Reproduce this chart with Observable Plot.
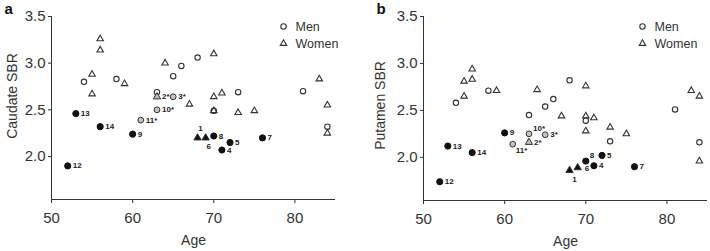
<!DOCTYPE html>
<html><head><meta charset="utf-8">
<script src="https://cdn.jsdelivr.net/npm/d3@7"></script>
<script src="https://cdn.jsdelivr.net/npm/@observablehq/plot@0.6"></script>
<style>
html,body{margin:0;padding:0;background:#fff;}
#wrap{position:relative;width:710px;height:251px;overflow:hidden;}
#wrap > svg, #wrap > figure{position:absolute;top:0;margin:0;}
</style></head><body><div id="wrap"></div>
<script>
// ---- data ----
const ageTicks = [50, 60, 70, 80];
const sbrTicks = [2.0, 2.5, 3.0, 3.5];
const ageDomain = [50, 85];
const sbrDomain = [1.54, 3.5];

// Healthy controls (open symbols)
const menAge      = [54, 58, 63, 65, 66, 68, 70, 73, 81, 84];
const menCaudate  = [2.80, 2.83, 2.69, 2.86, 2.97, 3.06, 2.49, 2.69, 2.70, 2.32];
const menPutamen  = [2.58, 2.71, 2.45, 2.54, 2.62, 2.82, 2.39, 2.17, 2.51, 2.16];

const womenAge     = [55, 55, 56, 56, 59, 64, 67, 70, 70, 70, 71, 73, 75, 83, 84, 84];
const womenCaudate = [2.88, 2.67, 3.26, 3.14, 2.78, 3.00, 2.56, 3.10, 2.64, 2.49, 2.68, 2.47, 2.49, 2.83, 2.55, 2.25];
const womenPutamen = [2.81, 2.65, 2.94, 2.83, 2.71, 2.72, 2.44, 2.76, 2.44, 2.28, 2.42, 2.32, 2.25, 2.71, 2.65, 1.96];

// Patients (filled symbols; "*" = grey)
const patientId      = ["1", "2*", "3*", "4", "5", "6", "7", "8", "9", "10*", "11*", "12", "13", "14"];
const patientSex     = ["Women", "Women", "Men", "Men", "Men", "Women", "Men", "Men", "Men", "Men", "Men", "Men", "Men", "Men"];
const patientAge     = [68, 63, 65, 71, 72, 69, 76, 70, 60, 63, 61, 52, 53, 56];
const patientCaudate = [2.20, 2.64, 2.64, 2.07, 2.15, 2.20, 2.20, 2.22, 2.24, 2.50, 2.39, 1.90, 2.46, 2.32];
const patientPutamen = [1.86, 2.16, 2.24, 1.91, 2.02, 1.89, 1.90, 1.96, 2.26, 2.25, 2.14, 1.74, 2.12, 2.05];

const legendLabels = ["Men", "Women"];

// ---- tables ----
function controlRows(key) {
  const men = menAge.map((a, i) => ({age: a, sbr: key === "caudate" ? menCaudate[i] : menPutamen[i], sex: "Men"}));
  const women = womenAge.map((a, i) => ({age: a, sbr: key === "caudate" ? womenCaudate[i] : womenPutamen[i], sex: "Women"}));
  return men.concat(women);
}
function patientRows(key) {
  return patientId.map((id, i) => ({
    id, sex: patientSex[i], age: patientAge[i],
    sbr: key === "caudate" ? patientCaudate[i] : patientPutamen[i],
    grey: id.includes("*")
  }));
}

const FONT = '"Liberation Sans", Arial, Helvetica, sans-serif';
const INK = "#333";

function panel(o) {
  const controls = controlRows(o.key);
  const pts = patientRows(o.key);
  const ctrlC = controls.filter(d => d.sex === "Men");
  const ctrlT = controls.filter(d => d.sex === "Women");
  const patC = pts.filter(d => d.sex === "Men");
  const patT = pts.filter(d => d.sex === "Women");
  const lab = (ids) => pts.filter(d => ids.includes(d.id));
  const special = Object.keys(o.labelPos);
  const defaultLab = pts.filter(d => !special.includes(d.id));
  const labelStyle = {x: "age", y: "sbr", text: "id", fontSize: 8, fontWeight: "bold", fill: "#222", lineAnchor: "middle"};
  const marks = [
    Plot.ruleX([ageDomain[0]], {y1: sbrDomain[0], y2: sbrDomain[1], stroke: INK, strokeWidth: 1}),
    Plot.ruleY([sbrDomain[0]], {x1: ageDomain[0], x2: ageDomain[1], stroke: INK, strokeWidth: 1}),
    Plot.axisX({ticks: ageTicks, tickSize: 4, tickPadding: 9, label: null, fontSize: 15, stroke: INK, fill: INK}),
    Plot.axisY({ticks: sbrTicks, tickFormat: ".1f", tickSize: 3, tickPadding: 3, label: null, fontSize: 15, stroke: INK, fill: INK}),
    Plot.text([o.ylabel], {frameAnchor: "left", rotate: -90, textAnchor: "middle", lineAnchor: "middle", dx: o.ylabDx, dy: o.ylabDy, fontSize: 14, fill: INK}),
    Plot.text(["Age"], {frameAnchor: "bottom", lineAnchor: "middle", textAnchor: "middle", dy: 41, fontSize: 14, fill: INK}),
    Plot.text([o.letter], {frameAnchor: "top-left", lineAnchor: "middle", textAnchor: "start", dx: o.letDx, dy: -7, fontSize: 15, fontWeight: "bold", fill: "#111"}),
    // legend
    Plot.dot([legendLabels[0]], {frameAnchor: "top-right", dx: o.legDx, dy: 10, symbol: "circle", r: 2.7, stroke: INK, strokeWidth: 1.1, fill: "white"}),
    Plot.dot([legendLabels[1]], {frameAnchor: "top-right", dx: o.legDx, dy: 27, symbol: "triangle", r: 2.4, stroke: INK, strokeWidth: 1.1, fill: "white"}),
    Plot.text([legendLabels[0]], {frameAnchor: "top-right", dx: o.legDx + 12, dy: 10, textAnchor: "start", lineAnchor: "middle", fontSize: 12.5, fill: INK}),
    Plot.text([legendLabels[1]], {frameAnchor: "top-right", dx: o.legDx + 12, dy: 27, textAnchor: "start", lineAnchor: "middle", fontSize: 12.5, fill: INK}),
    // controls
    Plot.dot(ctrlT, {x: "age", y: "sbr", symbol: "triangle", r: 2.4, stroke: INK, strokeWidth: 1.1, fill: "white"}),
    Plot.dot(ctrlC, {x: "age", y: "sbr", symbol: "circle", r: 2.7, stroke: INK, strokeWidth: 1.1, fill: "white", fillOpacity: 0}),
    // patients
    Plot.dot(patT, {x: "age", y: "sbr", symbol: "triangle", r: 2.7, stroke: INK, strokeWidth: 1, fill: d => d.grey ? "#bdbdbd" : "#111"}),
    Plot.dot(patC, {x: "age", y: "sbr", symbol: "circle", r: d => d.grey ? 2.9 : 3.3, stroke: d => d.grey ? INK : "#111", strokeWidth: 1, fill: d => d.grey ? "#c4c4c4" : "#111"}),
    Plot.text(defaultLab, {...labelStyle, dx: 5, textAnchor: "start"})
  ];
  for (const id of special) {
    const p = o.labelPos[id];
    marks.push(Plot.text(lab([id]), {...labelStyle, dx: p[0], dy: p[1], textAnchor: p[2]}));
  }
  return Plot.plot({
    width: 355, height: 251,
    marginLeft: o.ml, marginRight: o.mr, marginTop: 16, marginBottom: o.mb,
    style: {fontFamily: FONT, background: "transparent", overflow: "visible", color: INK},
    x: {domain: ageDomain},
    y: {domain: sbrDomain},
    marks
  });
}

const wrap = document.getElementById("wrap");
const a = panel({key: "caudate", ylabel: "Caudate SBR", letter: "a", ml: 51, mr: 20, mb: 52,
  ylabDx: -39, ylabDy: -12, letDx: -47, legDx: -52,
  labelPos: {"1": [3, -9, "middle"], "6": [3, 9, "middle"]}});
const b = panel({key: "putamen", ylabel: "Putamen SBR", letter: "b", ml: 68, mr: 3, mb: 51,
  ylabDx: -43, ylabDy: -3, letDx: -47, legDx: -65,
  labelPos: {"1": [5, 9, "middle"], "6": [7, 1, "start"], "8": [4, -6, "start"], "10*": [4, -5, "start"], "11*": [3, 6, "start"]}});
a.style.left = "0px";
b.style.left = "355px";
wrap.appendChild(a);
wrap.appendChild(b);
</script>
</body></html>
